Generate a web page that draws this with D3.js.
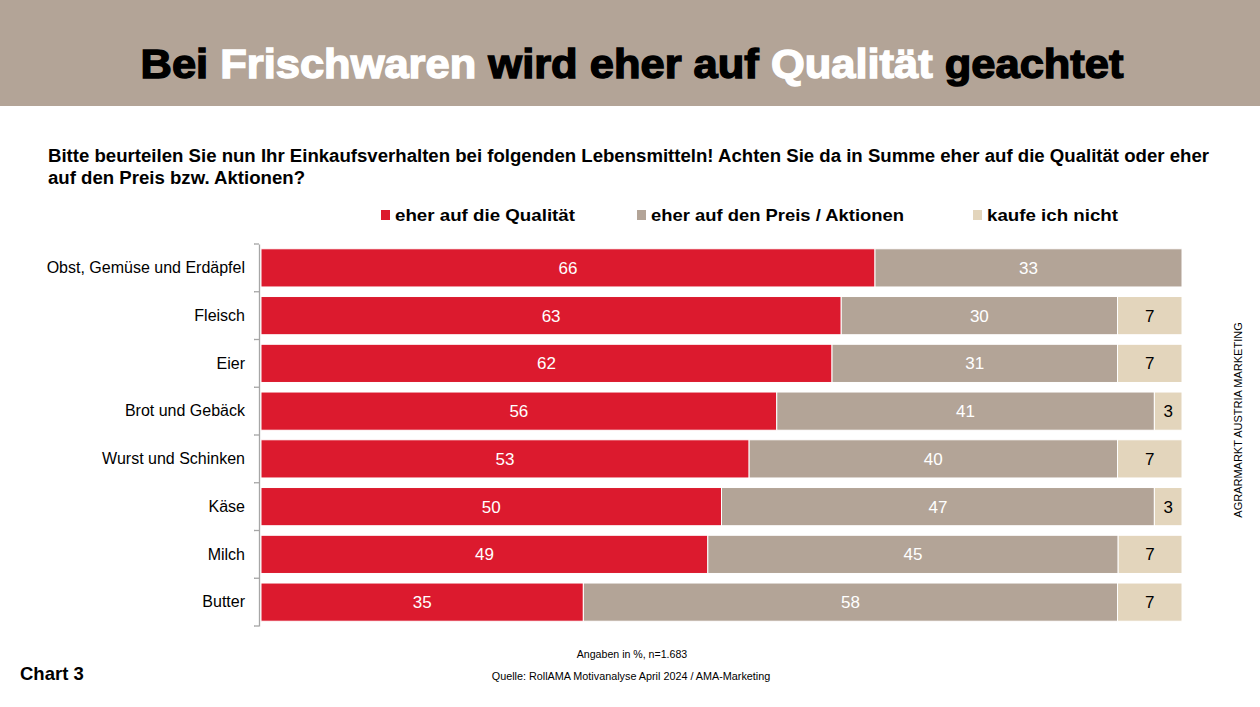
<!DOCTYPE html>
<html><head><meta charset="utf-8">
<script src="https://cdn.jsdelivr.net/npm/d3@7"></script>
<style>body{margin:0;background:#fff;}svg{display:block;font-family:"Liberation Sans",Arial,sans-serif;}</style>
</head><body>
<svg id="c" width="1260" height="707"></svg>
<script>
const categories = ["Obst, Gemüse und Erdäpfel","Fleisch","Eier","Brot und Gebäck","Wurst und Schinken","Käse","Milch","Butter"];
const seriesNames = ["eher auf die Qualität","eher auf den Preis / Aktionen","kaufe ich nicht"];
const quality = [66,63,62,56,53,50,49,35];
const price = [33,30,31,41,40,47,45,58];
const notBuy = [0,7,7,3,7,3,7,7];
const colors = ["#DC1A2E","#B3A497","#E3D5BC"];

const svg = d3.select("#c");
// header band
svg.append("rect").attr("x",0).attr("y",0).attr("width",1260).attr("height",106).attr("fill","#B3A497");
const title = svg.append("text").attr("x",632).attr("y",78).attr("text-anchor","middle")
  .attr("font-size",41).attr("font-weight","bold").attr("textLength",983).attr("lengthAdjust","spacingAndGlyphs");
[["Bei ","#000"],["Frischwaren ","#fff"],["wird eher auf ","#000"],["Qualität ","#fff"],["geachtet","#000"]]
  .forEach(([t,c])=>title.append("tspan").attr("fill",c).attr("stroke",c).attr("stroke-width",1.4).text(t));

svg.append("text").attr("x",48).attr("y",162).attr("font-size",17.6).attr("font-weight","bold")
  .attr("textLength",1161).attr("lengthAdjust","spacingAndGlyphs")
  .text("Bitte beurteilen Sie nun Ihr Einkaufsverhalten bei folgenden Lebensmitteln! Achten Sie da in Summe eher auf die Qualität oder eher");
svg.append("text").attr("x",48).attr("y",184).attr("font-size",17.6).attr("font-weight","bold")
  .attr("textLength",257).attr("lengthAdjust","spacingAndGlyphs")
  .text("auf den Preis bzw. Aktionen?");

// legend
const legX = [381,637,973];
const legW = [180,253,131];
seriesNames.forEach((n,i)=>{
  svg.append("rect").attr("x",legX[i]).attr("y",210).attr("width",9).attr("height",10).attr("fill",colors[i]);
  svg.append("text").attr("x",legX[i]+14).attr("y",221).attr("font-size",16.5).attr("font-weight","bold")
    .attr("textLength",legW[i]).attr("lengthAdjust","spacingAndGlyphs").text(n);
});

const rows = categories.map((c,i)=>({cat:c,vals:[quality[i],price[i],notBuy[i]]}));
const y = d3.scaleBand().domain(categories).range([244,626]).paddingInner(0.2).paddingOuter(0.1);
const x = d3.scaleLinear().domain([0,1]).range([261,1182]);

const g = svg.append("g");
rows.forEach(r=>{
  const tot = d3.sum(r.vals);
  let cum = 0;
  r.vals.forEach((v,j)=>{
    if(v<=0) return;
    const x0 = x(cum/tot), x1 = x((cum+v)/tot);
    cum += v;
    g.append("rect").attr("x",x0).attr("y",y(r.cat)).attr("width",x1-x0).attr("height",y.bandwidth())
      .attr("fill",colors[j]).attr("stroke","#fff").attr("stroke-width",1);
    g.append("text").attr("x",(x0+x1)/2).attr("y",y(r.cat)+y.bandwidth()/2+6).attr("text-anchor","middle")
      .attr("font-size",17).attr("fill",j===2?"#000":"#fff").text(v);
  });
});

// axis
const ax = d3.axisLeft(y).tickSize(0).tickPadding(14);
const axG = svg.append("g").attr("transform","translate(259,0)").call(ax);
axG.select(".domain").attr("stroke","#A6A6A6").attr("stroke-width",1.3);
axG.selectAll("text").attr("font-size",16).attr("fill","#000").attr("font-family","Liberation Sans, Arial, sans-serif");
const step = y.step();
const bounds = d3.range(categories.length+1).map(i=>244+i*step);
axG.selectAll(".bt").data(bounds).enter().append("line").attr("x1",-5).attr("x2",0)
  .attr("y1",d=>d).attr("y2",d=>d).attr("stroke","#A6A6A6").attr("stroke-width",1.3);

svg.append("text").attr("x",632).attr("y",658).attr("text-anchor","middle").attr("font-size",10.6).text("Angaben in %, n=1.683");
svg.append("text").attr("x",631).attr("y",680).attr("text-anchor","middle").attr("font-size",10.8).text("Quelle: RollAMA Motivanalyse April 2024 / AMA-Marketing");
svg.append("text").attr("x",20).attr("y",680).attr("font-size",18.5).attr("font-weight","bold").text("Chart 3");
svg.append("text").attr("transform","translate(1242,420) rotate(-90)").attr("text-anchor","middle").attr("font-size",11).text("AGRARMARKT AUSTRIA MARKETING");
</script>
</body></html>
